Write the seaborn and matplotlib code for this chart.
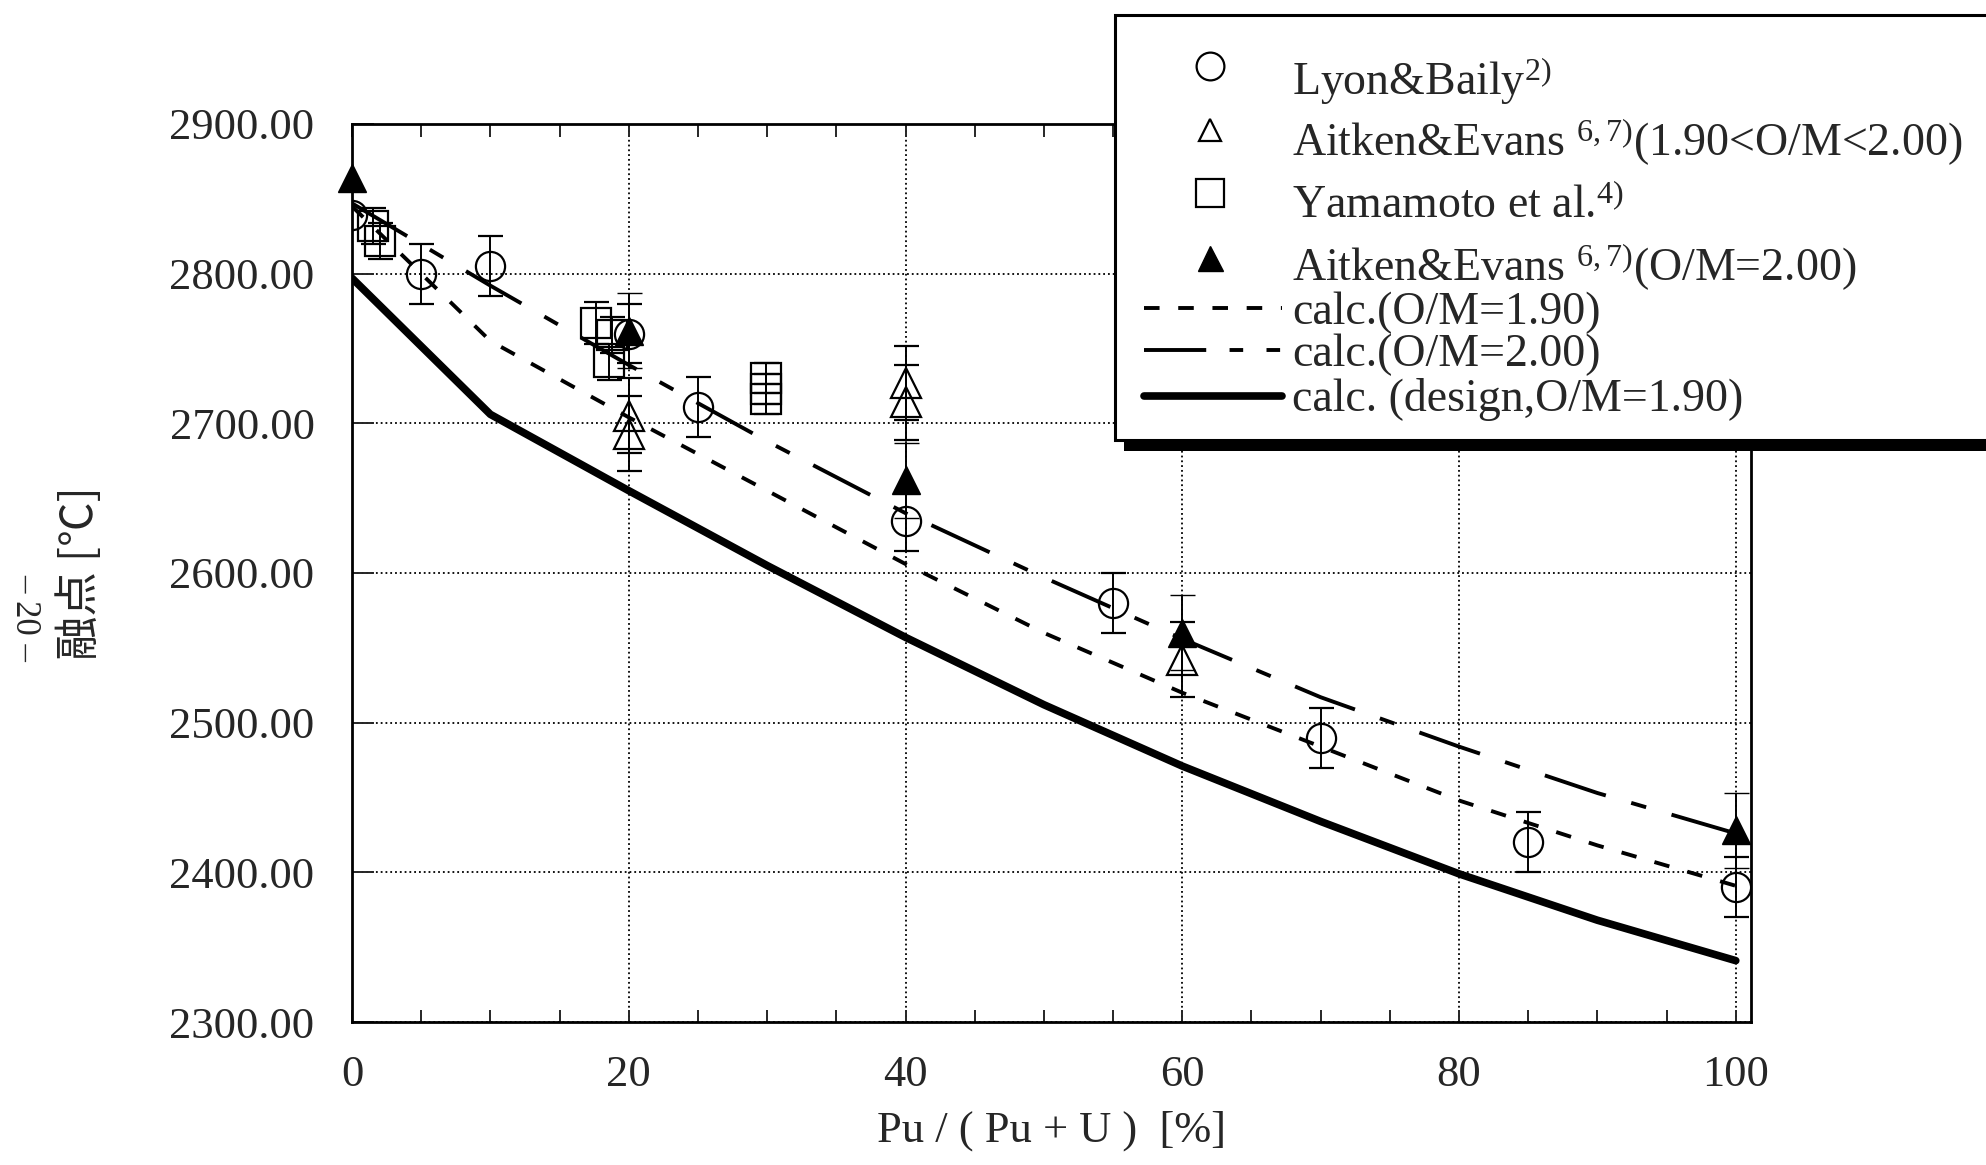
import numpy as np
import pandas as pd
import matplotlib
matplotlib.use("Agg")
import matplotlib.pyplot as plt
import seaborn as sns
from matplotlib.lines import Line2D
from matplotlib.patches import Rectangle
from matplotlib.ticker import MultipleLocator, FormatStrFormatter

# calc curves (Pu content %, melting point degC)
pu_calc = [0, 10, 20, 30, 40, 50, 60, 70, 80, 90, 100]
tm_om190 = [2845, 2755, 2704, 2655, 2606, 2560, 2520, 2484, 2448, 2418, 2391]
tm_om200 = [2847, 2792, 2739, 2688, 2640, 2597, 2556, 2517, 2484, 2453, 2426]
tm_design = [2797, 2706, 2655, 2605, 2557, 2512, 2471, 2434, 2399, 2368, 2341]

# measured data
lyon_pu = [0, 5, 10, 20, 25, 40, 55, 70, 85, 100]
lyon_tm = [2839, 2800, 2805, 2760, 2711, 2635, 2580, 2490, 2420, 2390]
lyon_err = [np.nan, 20, 20, 20, 20, 20, 20, 20, 20, 20]

ae_open_pu = [20, 20, 40, 40, 60]
ae_open_tm = [2705, 2693, 2727, 2714, 2542]
ae_open_err = [25, 25, 25, 25, 25]

yam_pu = [1.5, 2.0, 17.6, 18.8, 18.6, 29.9, 29.9, 29.9]
yam_tm = [2832, 2822, 2767, 2759, 2741, 2716, 2723, 2730]
yam_err = [12, 12, 14, 12, 12, 10, 10, 10]

ae_fill_pu = [0, 20, 40, 60, 100]
ae_fill_tm = [2864, 2762, 2662, 2560, 2428]
ae_fill_err = [np.nan, 25, 25, 25, 25]

labels = [
    r"Lyon&Baily$^{\mathrm{2)}}$",
    r"Aitken&Evans $^{\mathrm{6,7)}}$(1.90<O/M<2.00)",
    r"Yamamoto et al.$^{\mathrm{4)}}$",
    r"Aitken&Evans $^{\mathrm{6,7)}}$(O/M=2.00)",
    "calc.(O/M=1.90)",
    "calc.(O/M=2.00)",
    "calc. (design,O/M=1.90)",
]

sns.set_theme(style="ticks")
plt.rcParams["font.family"] = ["Liberation Serif", "Noto Sans CJK JP", "DejaVu Sans"]
plt.rcParams["mathtext.fontset"] = "custom"
plt.rcParams["mathtext.rm"] = "Liberation Serif"
plt.rcParams["mathtext.it"] = "Liberation Serif:italic"
plt.rcParams["axes.linewidth"] = 2.0

W, H = 1986, 1165
FS = 32
LW = 2.8
dash_short = (4.0, 4.8)
dash_long = (16.5, 6.8, 4.0, 6.8)


def fpos(x, y):
    # pixel position (from top-left) -> figure fraction
    return x / W, 1 - y / H


fig = plt.figure(figsize=(W / 100, H / 100), dpi=100)
ax = fig.add_axes([352 / W, 1 - 1022 / H, (1751 - 352) / W, (1022 - 124) / H])

# calc lines through seaborn
df = pd.DataFrame({
    "pu": pu_calc * 3,
    "tm": tm_om190 + tm_om200 + tm_design,
    "series": [labels[4]] * len(pu_calc) + [labels[5]] * len(pu_calc) + [labels[6]] * len(pu_calc),
})
sns.lineplot(data=df, x="pu", y="tm", hue="series", style="series", size="series",
             palette={labels[4]: "black", labels[5]: "black", labels[6]: "black"},
             dashes={labels[4]: dash_short, labels[5]: dash_long, labels[6]: ""},
             sizes={labels[4]: LW, labels[5]: LW, labels[6]: 5.5},
             legend=False, ax=ax, zorder=3)

eb = dict(ecolor="black", elinewidth=1.4, capsize=9, capthick=1.4, linestyle="none", zorder=4)
ax.errorbar(lyon_pu, lyon_tm, yerr=lyon_err, fmt="o", ms=21, mfc="none", mec="black", mew=1.6, **eb)
ax.errorbar(ae_open_pu, ae_open_tm, yerr=ae_open_err, fmt="^", ms=22, mfc="none", mec="black", mew=1.6, **eb)
ax.errorbar(yam_pu, yam_tm, yerr=yam_err, fmt="s", ms=21, mfc="none", mec="black", mew=1.6, **eb)
ax.errorbar(ae_fill_pu, ae_fill_tm, yerr=ae_fill_err, fmt="^", ms=20, mfc="black", mec="black", mew=1.0,
            clip_on=False, **eb)

ax.set_xlim(0, 101.1)
ax.set_ylim(2300, 2900)
ax.xaxis.set_major_locator(MultipleLocator(20))
ax.xaxis.set_minor_locator(MultipleLocator(5))
ax.yaxis.set_major_locator(MultipleLocator(100))
ax.yaxis.set_major_formatter(FormatStrFormatter("%.2f"))
ax.grid(True, which="major", linestyle=":", color="black", linewidth=1.3)
ax.tick_params(axis="x", which="both", direction="in", top=True, bottom=True,
               length=9, width=1.4, labelsize=FS, pad=24)
ax.tick_params(axis="y", which="major", direction="in", left=True, right=False,
               length=16, width=1.4, labelsize=FS, pad=27)
for s in ax.spines.values():
    s.set_visible(True)
    s.set_color("black")
    s.set_linewidth(2.0)

ax.set_xlabel("Pu / ( Pu + U )  [%]", fontsize=FS)
ax.xaxis.set_label_coords(0.5, -0.099)
ax.set_ylabel("")
fig.text(*fpos(80, 573), "融点 [℃]", rotation=90, ha="center", va="center",
         fontsize=32, family=["Noto Sans CJK JP"])
fig.text(*fpos(25, 617), "– 20 –", rotation=-90, ha="center", va="center", fontsize=25)

# legend box drawn by hand: rows of the original are not evenly spaced
box_l, box_t, box_r, box_b = 1115, 15, 2010, 440
fig.add_artist(Rectangle(fpos(box_l + 9, box_b + 11), (box_r - box_l) / W, (box_b - box_t) / H,
                         transform=fig.transFigure, facecolor="black", edgecolor="none", zorder=9))
fig.add_artist(Rectangle(fpos(box_l, box_b), (box_r - box_l) / W, (box_b - box_t) / H,
                         transform=fig.transFigure, facecolor="white", edgecolor="black",
                         linewidth=2.2, zorder=10))

handle_styles = [
    dict(ls="none", marker="o", ms=20, mfc="none", mec="black", mew=1.6),
    dict(ls="none", marker="^", ms=16, mfc="none", mec="black", mew=1.6),
    dict(ls="none", marker="s", ms=20, mfc="none", mec="black", mew=1.6),
    dict(ls="none", marker="^", ms=18, mfc="black", mec="black"),
    dict(color="black", lw=LW, dashes=dash_short),
    dict(color="black", lw=LW, dashes=(16, 6, 3.5, 6, 3.5, 20)),
    dict(color="black", lw=5.5),
]
handle_y = [66, 130, 193, 258, 308, 350, 396]
text_base = [95, 156, 218, 281, 324, 366, 411]
for style, hy, ty, lab in zip(handle_styles, handle_y, text_base, labels):
    if style.get("ls") == "none":
        xs = [1210]
    else:
        xs = [1144, 1282]
    fx = [x / W for x in xs]
    fy = [1 - hy / H] * len(xs)
    fig.add_artist(Line2D(fx, fy, transform=fig.transFigure, zorder=11, **style))
    fig.text(*fpos(1292, ty), lab, ha="left", va="baseline", fontsize=33, zorder=11)

fig.savefig("out.png", dpi=100)
